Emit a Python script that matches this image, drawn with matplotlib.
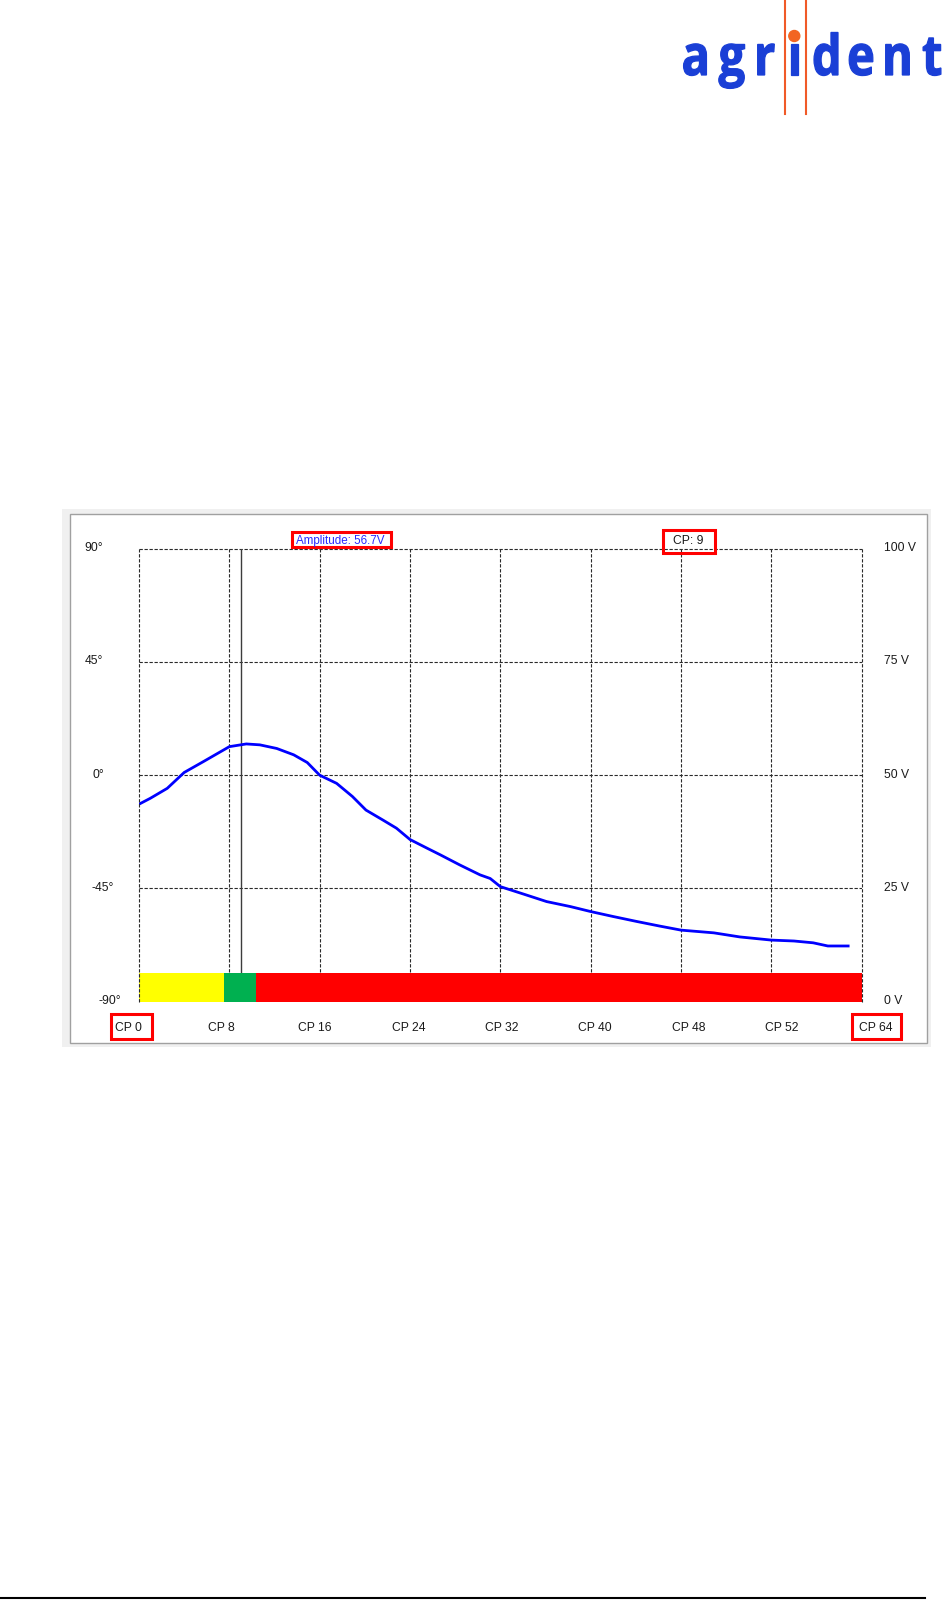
import numpy as np
import matplotlib.pyplot as plt
from matplotlib.patches import Rectangle, Circle, PathPatch
from matplotlib.textpath import TextPath
from matplotlib.font_manager import FontProperties
from matplotlib.transforms import Affine2D

# amplitude curve: CP position -> volts
cp = [0, 1, 2.5, 4, 5.7, 8, 9.5, 10.7, 12.2, 13.7, 14.9, 16, 17.5, 18.9, 20.1,
      21.6, 22.8, 24, 25.5, 26.7, 28.4, 30.2, 31.1, 32, 34, 36.1, 38.2, 40, 42,
      44.1, 46.1, 48, 50.9, 53.2, 56, 58, 59.7, 61, 62.8]
volts = [43.6, 44.9, 47.1, 50.6, 53.0, 56.3, 56.9, 56.7, 55.9, 54.5, 52.8, 50.0,
         48.2, 45.3, 42.3, 40.1, 38.3, 35.8, 33.9, 32.4, 30.2, 28.0, 27.2, 25.4,
         23.8, 22.1, 21.0, 19.9, 18.8, 17.7, 16.7, 15.8, 15.2, 14.3, 13.6, 13.4,
         13.0, 12.3, 12.3]
cursor_cp = 9

x_labels = ['CP 0', 'CP 8', 'CP 16', 'CP 24', 'CP 32', 'CP 40', 'CP 48', 'CP 52', 'CP 64']
volt_ticks = [100, 75, 50, 25, 0]
angle_labels = ['90°', '45°', '0°', '-45°', '-90°']
volt_labels = ['100 V', '75 V', '50 V', '25 V', '0 V']

# coloured quality bar at the bottom
band_start = [0, 7.5, 10.4]
band_end = [7.5, 10.4, 64]
band_colors = ['#ffff00', '#00b050', '#ff0000']
band_height = 6.25

W, H = 943, 1601
plt.rcParams['font.family'] = ['Liberation Sans', 'DejaVu Sans']
fig = plt.figure(figsize=(W / 100, H / 100), dpi=100)


def px_axes(z):
    a = fig.add_axes([0, 0, 1, 1], zorder=z)
    a.set_xlim(0, W)
    a.set_ylim(H, 0)
    a.axis('off')
    a.patch.set_alpha(0)
    return a


bg = px_axes(0)

# window frame
bg.add_patch(Rectangle((62, 509), 869, 538, facecolor='#f0f0f0', edgecolor='none'))
bg.add_patch(Rectangle((70, 514), 856.7, 529.3, facecolor='white', edgecolor='#a0a0a0', lw=1))

# logo
bg.plot([785, 785], [0, 114], color='#f05a28', lw=1.5)
bg.plot([805.7, 805.7], [0, 114], color='#f05a28', lw=1.5)
fp = FontProperties(family='Open Sans', weight='bold')
letters = ['a', 'g', 'r', 'ı', 'd', 'e', 'n', 't']
centers = [695, 731.7, 766, 794.7, 826, 861, 897.5, 932]
sx, sy = 47, 56
for ch, xc in zip(letters, centers):
    tp = TextPath((0, 0), ch, size=1, prop=fp)
    ext = tp.get_extents()
    tr = Affine2D().scale(sx, -sy).translate(xc - (ext.x0 + ext.x1) / 2 * sx, 75)
    bg.add_patch(PathPatch(tr.transform_path(tp), facecolor='#1a3fd6',
                           edgecolor='#1a3fd6', lw=0.9))
bg.add_patch(Circle((794.3, 36), 5.5, color='#f26522'))

# page footer line
bg.plot([0, 925], [1598, 1598], color='black', lw=1.5)

# chart area
L, R, T, B = 139, 861.7, 548.7, 1001.7
ax = fig.add_axes([L / W, 1 - B / H, (R - L) / W, (B - T) / H], zorder=1)
ax.set_xlim(0, 64)
ax.set_ylim(0, 100)
ax.patch.set_alpha(0)
for s in ax.spines.values():
    s.set_visible(False)
ax.set_xticks([])
ax.set_yticks([])

grid_kw = dict(color='#2a2a2a', lw=0.8, dashes=(3, 1.5))
for x in range(8, 64, 8):
    ax.axvline(x, zorder=1, **grid_kw)
for v in [25, 50, 75]:
    ax.axhline(v, zorder=1, **grid_kw)
ax.axhline(100, zorder=1, clip_on=False, **grid_kw)
ax.axvline(0, zorder=5, clip_on=False, **grid_kw)
ax.axvline(64, zorder=5, clip_on=False, **grid_kw)

ax.axvline(cursor_cp, color='#3c3c3c', lw=1.0, zorder=2)
ax.broken_barh([(s, e - s) for s, e in zip(band_start, band_end)], (0, band_height),
               facecolors=band_colors, zorder=3)
ax.plot(cp, volts, color='#0000ff', lw=2.0, zorder=4)

fs = 8.7
lab_kw = dict(textcoords='offset pixels', va='center_baseline', fontsize=fs, color='#1a1a1a',
              annotation_clip=False)
left_dx = [-45, -45, -41, -36, -29]
for lab, v, dx in zip(angle_labels, volt_ticks, left_dx):
    ax.annotate(lab, (0, v), xytext=(dx, 2), ha='center', **lab_kw)
for lab, v in zip(volt_labels, volt_ticks):
    ax.annotate(lab, (64, v), xytext=(22.3, 2), ha='left', **lab_kw)
for i, lab in enumerate(x_labels):
    ax.annotate(lab, (0, 0), xytext=(128.3 - L + i * 93.4, -25), ha='center', **lab_kw)

# header texts and red highlight boxes
top = px_axes(2)
amp = np.interp(cursor_cp, cp, volts)
top.text(340, 539.5, f'Amplitude: {amp:.1f}V', ha='center', va='center_baseline',
         fontsize=8.4, color='#2a2aff')
top.text(688.3, 539.5, f'CP: {cursor_cp}', ha='center', va='center_baseline',
         fontsize=fs, color='#1a1a1a')
boxes = [(290, 530, 102.7, 18.7), (661, 528.3, 55.7, 26),
         (109.3, 1012.7, 44, 27.3), (850.7, 1012.7, 52, 27.3)]
for x, y, w, h in boxes:
    top.add_patch(Rectangle((x + 1.5, y + 1.5), w - 3, h - 3, fill=False,
                            edgecolor='#ff0000', lw=2.2))

fig.savefig('out.png', dpi=100)
